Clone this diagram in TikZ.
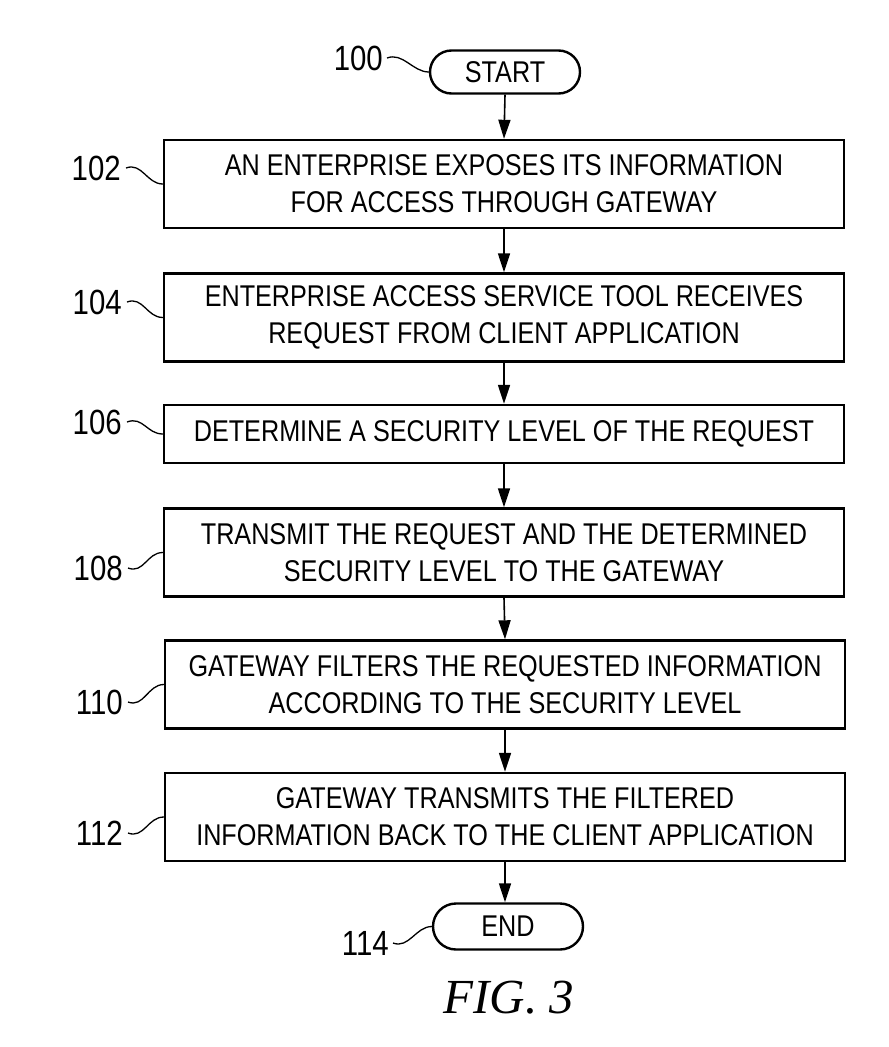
\documentclass[tikz,border=0pt]{standalone}
\usepackage{fontspec}
\setmainfont{Liberation Sans}[FakeStretch=0.84]
\newfontfamily\figfont{Liberation Serif}
\usetikzlibrary{arrows.meta}
\begin{document}
\begin{tikzpicture}[x=1pt,y=-1pt,
  box/.style={draw, line width=2.4pt, minimum width=680pt, minimum height=88pt, inner sep=0pt, align=center, font=\fontsize{30}{37}\selectfont},
  term/.style={draw, line width=2.4pt, rounded corners=21.5pt, minimum width=150pt, minimum height=43pt, inner sep=0pt, font=\fontsize{30}{37}\selectfont},
  lab/.style={anchor=east, inner sep=0pt, font=\fontsize{35}{40}\selectfont},
  arr/.style={line width=1.6pt, -{Triangle[length=19pt,width=12pt]}},
  sq/.style={line width=1.3pt}]
\useasboundingbox (0,0) rectangle (889,1047);

\node[term] (start) at (505,72) {START};
\node[box] (b102) at (504,184) {AN ENTERPRISE EXPOSES ITS INFORMATION\\FOR ACCESS THROUGH GATEWAY};
\node[box] (b104) at (504,317.5) {ENTERPRISE ACCESS SERVICE TOOL RECEIVES\\REQUEST FROM CLIENT APPLICATION};
\node[box, minimum height=58pt] (b106) at (504,434) {DETERMINE A SECURITY LEVEL OF THE REQUEST};
\node[box] (b108) at (504,552.5) {TRANSMIT THE REQUEST AND THE DETERMINED\\SECURITY LEVEL TO THE GATEWAY};
\node[box] (b110) at (505,684.5) {GATEWAY FILTERS THE REQUESTED INFORMATION\\ACCORDING TO THE SECURITY LEVEL};
\node[box] (b112) at (505,817) {GATEWAY TRANSMITS THE FILTERED\\INFORMATION BACK TO THE CLIENT APPLICATION};
\node[term, minimum height=46pt, rounded corners=23pt] (end) at (508,926.5) {END};

\draw[arr] (start.south) -- (b102.north);
\draw[arr] (b102.south) -- (b104.north);
\draw[arr] (b104.south) -- (b106.north);
\draw[arr] (b106.south) -- (b108.north);
\draw[arr] (b108.south) -- (b110.north);
\draw[arr] (b110.south) -- (b112.north);
\draw[arr] (b112.south) -- (b112.south |- end.north);

\node[lab] (l100) at (383,58) {100};
\node[lab] (l102) at (121,168) {102};
\node[lab] (l104) at (122,302) {104};
\node[lab] (l106) at (122,422) {106};
\node[lab] (l108) at (123,568) {108};
\node[lab] (l110) at (123,702) {110};
\node[lab] (l112) at (123,833) {112};
\node[lab] (l114) at (389,943) {114};

\draw[sq] ([xshift=4pt]l100.east) .. controls +(16,-6) and +(-16,0) .. (start.west);
\draw[sq] ([xshift=5pt]l102.east) .. controls +(16,-6) and +(-16,0) .. (b102.west);
\draw[sq] ([xshift=5pt]l104.east) .. controls +(16,-6) and +(-16,0) .. (b104.west);
\draw[sq] ([xshift=5pt]l106.east) .. controls +(16,-6) and +(-16,0) .. (b106.west);
\draw[sq] ([xshift=5pt]l108.east) .. controls +(16,6) and +(-16,0) .. (b108.west);
\draw[sq] ([xshift=5pt]l110.east) .. controls +(16,6) and +(-16,0) .. (b110.west);
\draw[sq] ([xshift=5pt]l112.east) .. controls +(16,6) and +(-16,0) .. (b112.west);
\draw[sq] ([xshift=4pt]l114.east) .. controls +(16,6) and +(-16,0) .. (end.west);

\node[inner sep=0pt, font=\figfont\itshape\fontsize{49}{52}\selectfont] (fig) at (509,998) {FIG. 3};
\end{tikzpicture}
\end{document}
